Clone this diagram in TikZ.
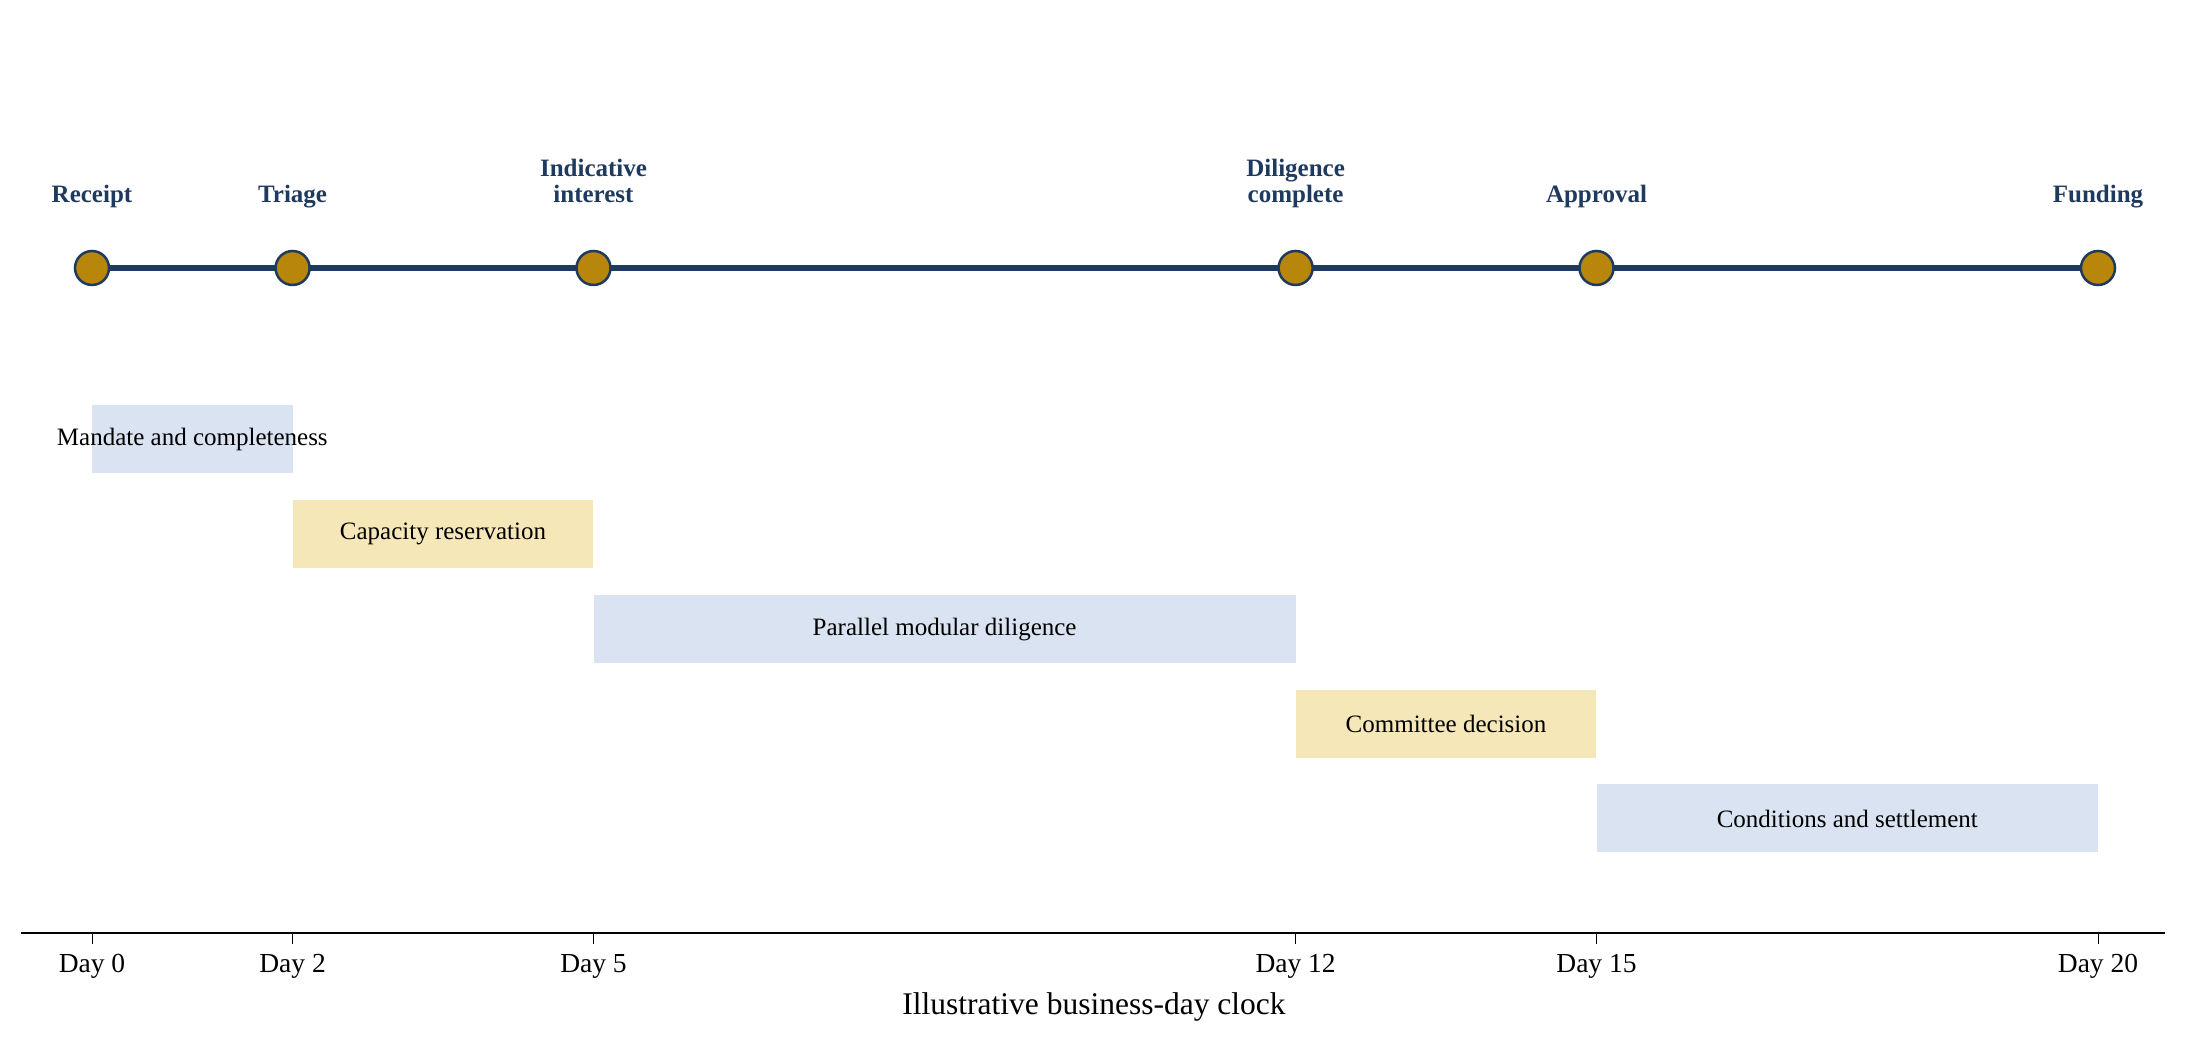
\documentclass[tikz,border=0pt]{standalone}
\usepackage{fontspec}
\setmainfont{Liberation Serif}
\usetikzlibrary{backgrounds}
\definecolor{navy}{HTML}{1F3A5F}
\definecolor{gold}{HTML}{B8860B}
\definecolor{paleblue}{HTML}{D9E3F1}
\definecolor{paleyellow}{HTML}{F5E7B8}
\begin{document}
\begin{tikzpicture}[x=0.4pt,y=-0.4pt]
  \tikzset{ ms/.style={circle,draw=navy,line width=1pt,fill=gold,inner sep=0pt,minimum size=13.6pt},
    mslabel/.style={anchor=south,inner sep=0pt,text depth=0pt,align=center,text=navy,
      font=\bfseries\fontsize{10}{10.4}\selectfont},
    phase/.style={inner sep=0pt,minimum height=27.2pt,font=\fontsize{10}{12}\selectfont},
    daylabel/.style={anchor=base,inner sep=0pt,font=\fontsize{11}{13}\selectfont},
  }
  \useasboundingbox (0,0) rectangle (2188,1044);

  % milestones
  \node[ms] (m0) at (92, 268) {};
  \node[ms] (m2) at (292.6, 268) {};
  \node[ms] (m5) at (593.5, 268) {};
  \node[ms] (m12) at (1295.6, 268) {};
  \node[ms] (m15) at (1596.5, 268) {};
  \node[ms] (m20) at (2098, 268) {};
  \begin{pgfonlayer}{background}
    \draw[navy,line width=2.4pt] (m0.center) -- (m20.center);
  \end{pgfonlayer}

  \node[mslabel] (l0) at (92, 203.5) {Receipt};
  \node[mslabel] (l2) at (292.6, 203.5) {Triage};
  \node[mslabel] (l5) at (593.5, 203.5) {Indicative\\interest};
  \node[mslabel] (l12) at (1295.6, 203.5) {Diligence\\complete};
  \node[mslabel] (l15) at (1596.5, 203.5) {Approval};
  \node[mslabel] (l20) at (2098, 203.5) {Funding};

  % phases (text may run past the bar)
  \node[phase,fill=paleblue,minimum width=80.24pt] (p1) at (192.3, 439) {\makebox[0pt]{Mandate and completeness}};
  \node[phase,fill=paleyellow,minimum width=120.36pt] (p2) at (443, 534) {Capacity reservation};
  \node[phase,fill=paleblue,minimum width=280.84pt] (p3) at (944.6, 629.5) {Parallel modular diligence};
  \node[phase,fill=paleyellow,minimum width=120.36pt] (p4) at (1446, 724) {Committee decision};
  \node[phase,fill=paleblue,minimum width=200.6pt] (p5) at (1847.3, 818.5) {Conditions and settlement};

  % the day axis
  \coordinate (a0) at (21, 933);
  \coordinate (a1) at (2165, 933);
  \draw[line width=0.8pt] (a0) -- (a1);
  \draw[line width=0.4pt] (92, 933) -- ++(0, 11) (292.6, 933) -- ++(0, 11)
    (593.5, 933) -- ++(0, 11) (1295.6, 933) -- ++(0, 11)
    (1596.5, 933) -- ++(0, 11) (2098, 933) -- ++(0, 11);
  \node[daylabel] (d0) at (92, 973) {Day 0};
  \node[daylabel] (d2) at (292.6, 973) {Day 2};
  \node[daylabel] (d5) at (593.5, 973) {Day 5};
  \node[daylabel] (d12) at (1295.6, 973) {Day 12};
  \node[daylabel] (d15) at (1596.5, 973) {Day 15};
  \node[daylabel] (d20) at (2098, 973) {Day 20};
  \node[anchor=base,inner sep=0pt,font=\fontsize{12.6}{15}\selectfont] (xl) at (1094, 1014) {Illustrative business-day clock};
\end{tikzpicture}
\end{document}
